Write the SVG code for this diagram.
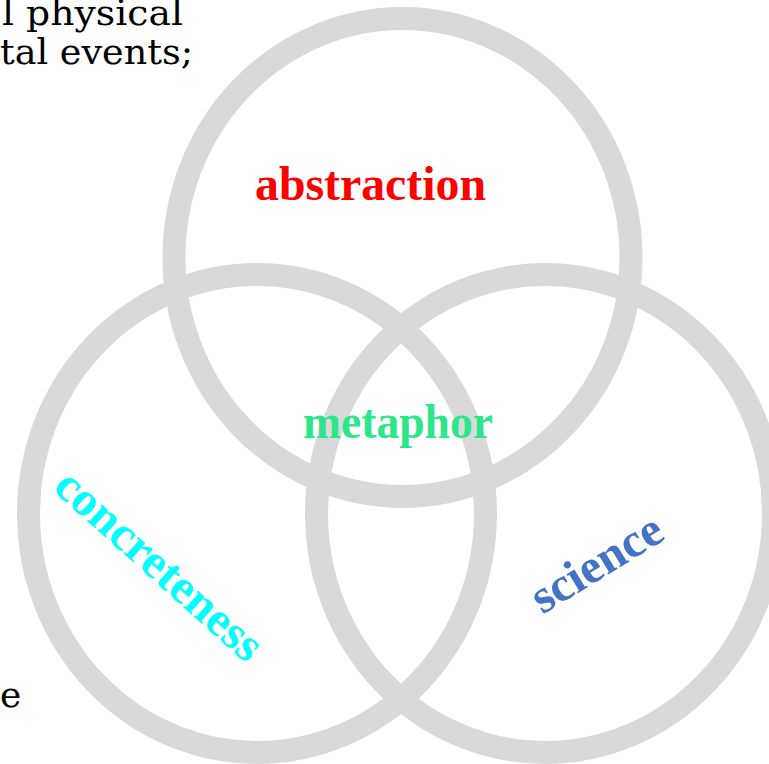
<svg xmlns="http://www.w3.org/2000/svg" width="769" height="764" viewBox="0 0 769 764">
<style>
.ring{fill:none;stroke:#d9d9d9;stroke-width:23}
.body{font-family:"DejaVu Serif","Liberation Serif",serif;font-size:36px;fill:#000}
.lbl{font-family:"Liberation Serif","Times New Roman",serif;font-size:48px;font-weight:bold}
</style>
<rect width="769" height="764" fill="#fff"/>
<g id="background-text">
<text class="body" x="2" y="25" textLength="181" lengthAdjust="spacingAndGlyphs">l physical</text>
<text class="body" x="0" y="64" textLength="193" lengthAdjust="spacingAndGlyphs">tal events;</text>
<text class="body" x="0" y="707">e</text>
</g>
<g id="connectors"></g>
<g id="abstraction-set">
<ellipse class="ring" cx="402.5" cy="257.5" rx="228.5" ry="239"/>
</g>
<g id="concreteness-set">
<ellipse class="ring" cx="257" cy="513.5" rx="228.5" ry="239"/>
</g>
<g id="science-set">
<ellipse class="ring" cx="545" cy="513.5" rx="228.5" ry="239"/>
</g>
<g id="abstraction-label">
<text class="lbl" x="370.5" y="200" text-anchor="middle" fill="#ff0000" textLength="231" lengthAdjust="spacingAndGlyphs">abstraction</text>
</g>
<g id="metaphor-label">
<text class="lbl" x="398" y="438" text-anchor="middle" fill="#2de68a" textLength="190" lengthAdjust="spacingAndGlyphs">metaphor</text>
</g>
<g id="concreteness-label" transform="translate(158,567) rotate(41.8)">
<text class="lbl" x="0" y="13" text-anchor="middle" fill="#00ffff" textLength="262" lengthAdjust="spacingAndGlyphs">concreteness</text>
</g>
<g id="science-label" transform="translate(600,569) rotate(-31.5)">
<text class="lbl" x="0" y="9" text-anchor="middle" fill="#4472c4" textLength="146" lengthAdjust="spacingAndGlyphs">science</text>
</g>
</svg>
